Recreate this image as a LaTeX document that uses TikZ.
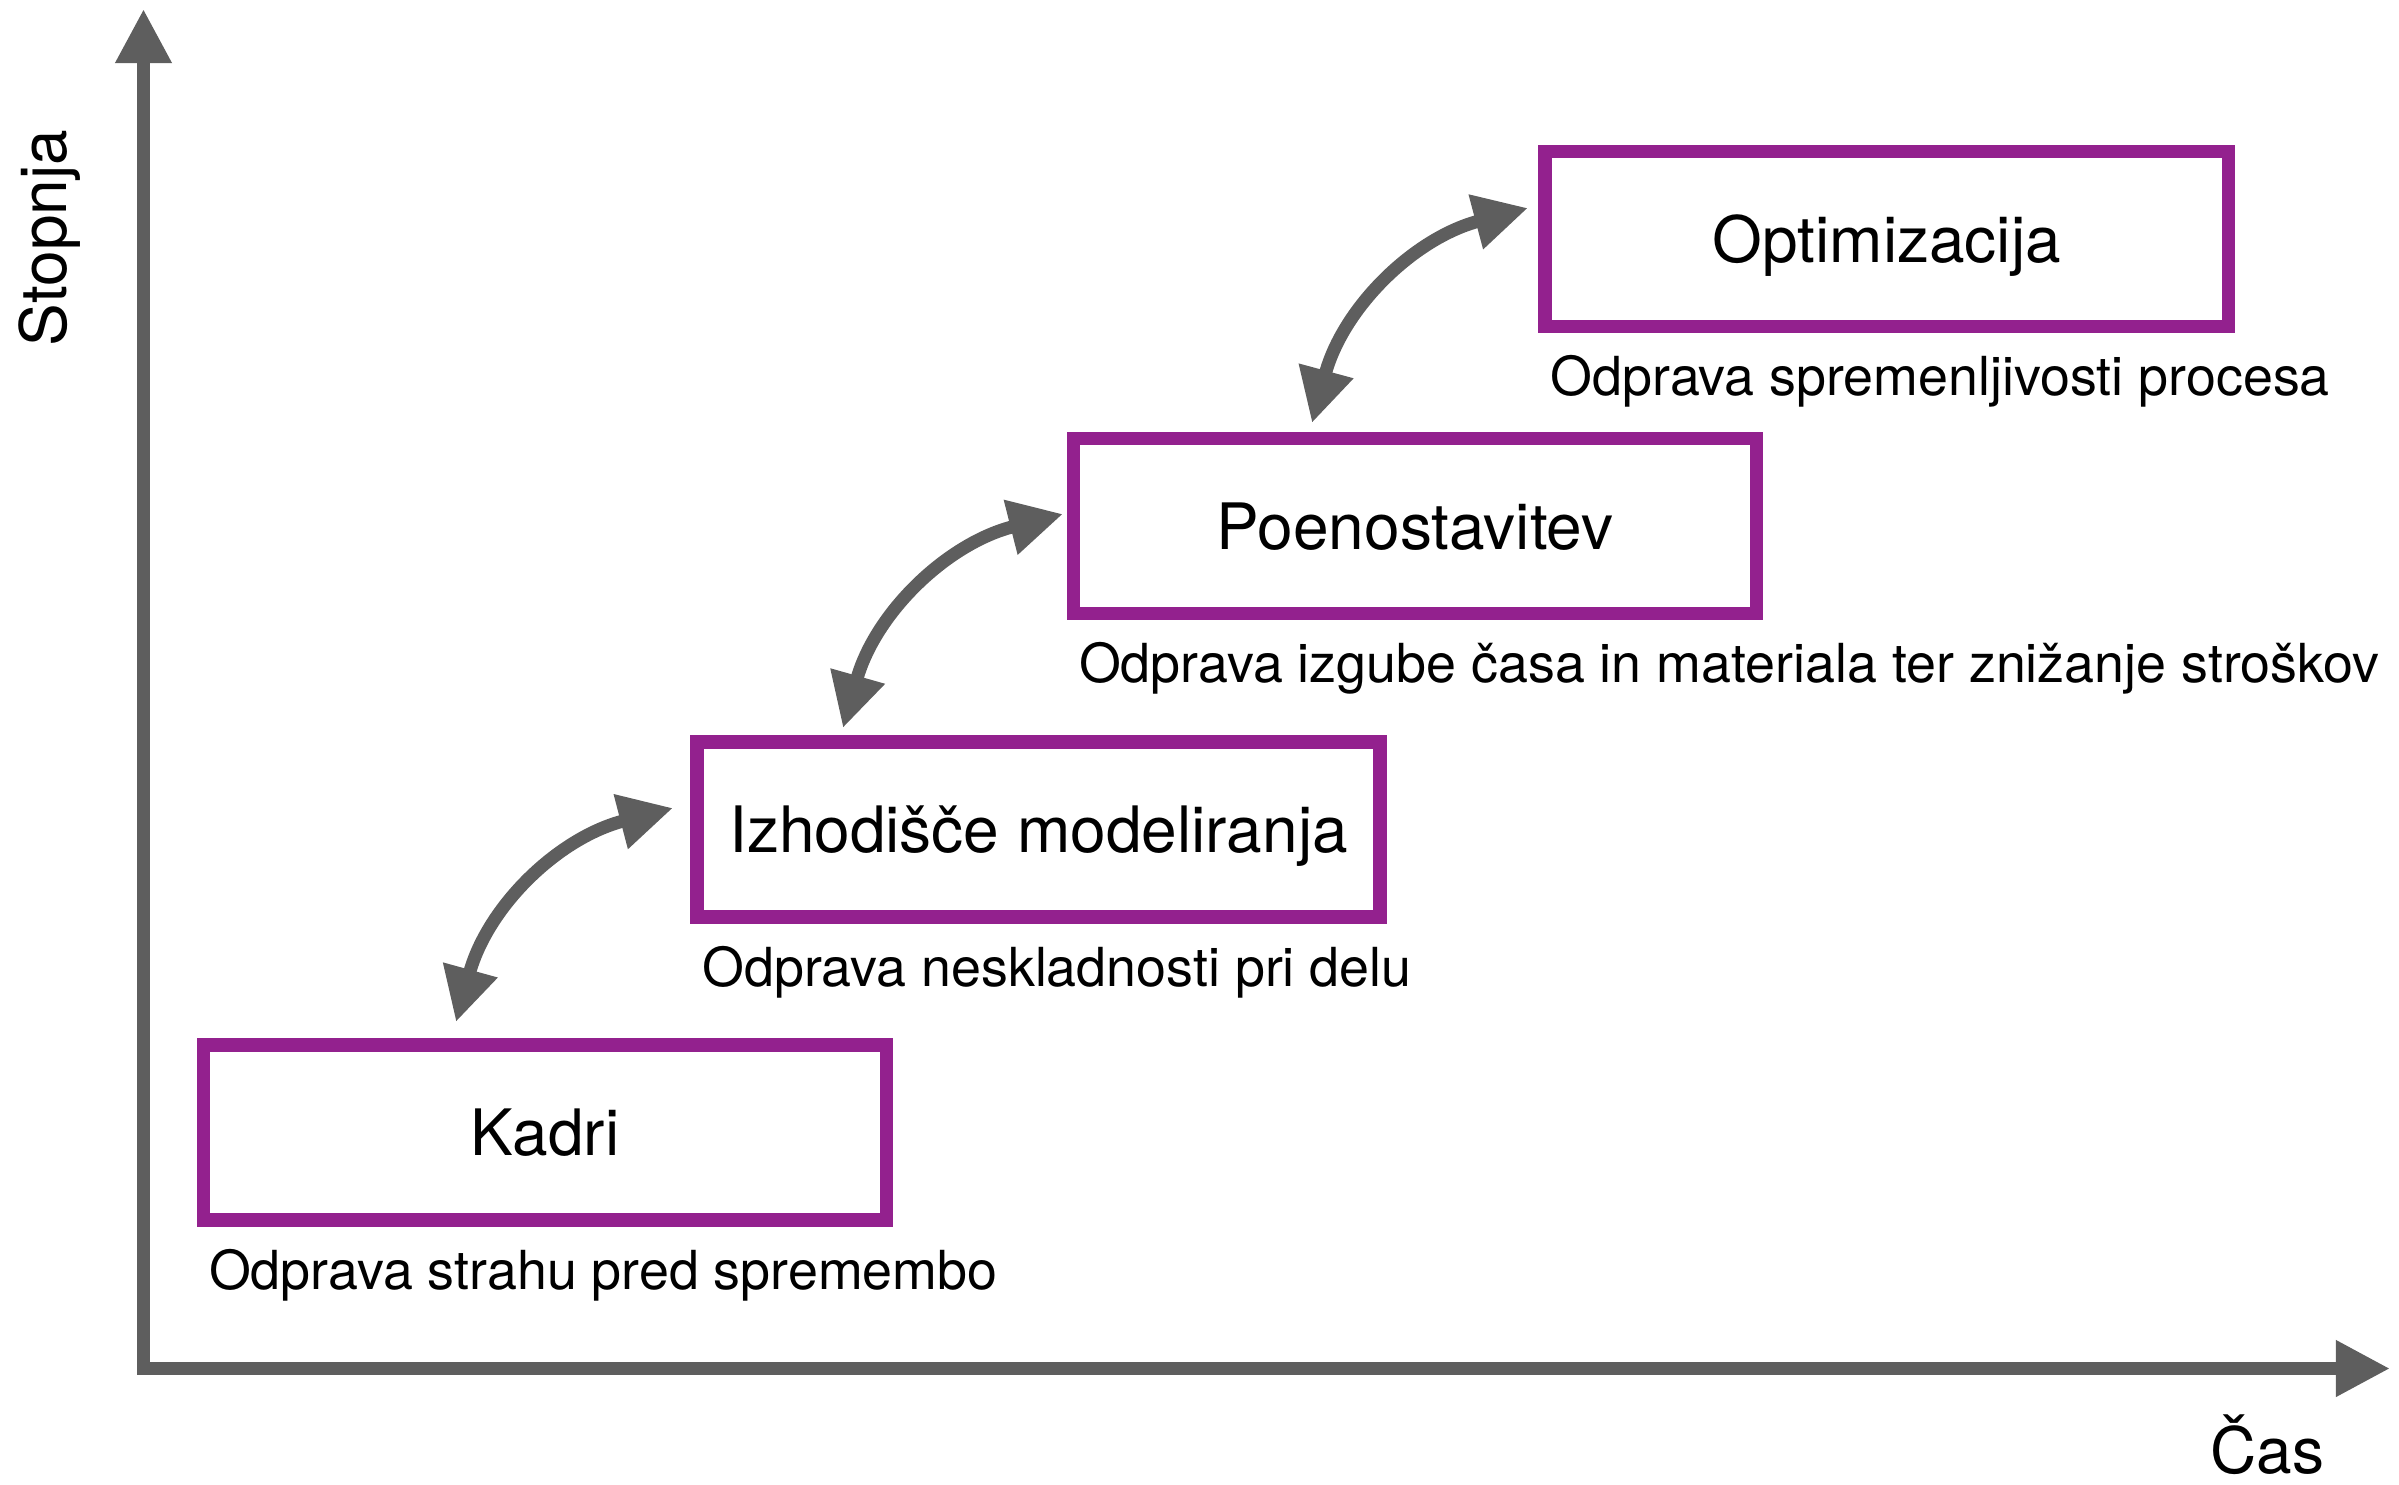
\documentclass[tikz,border=0pt]{standalone}
\usepackage{fontspec}
\setmainfont{TeX Gyre Heros}
\usetikzlibrary{arrows.meta,calc}
\definecolor{axisgray}{RGB}{94,94,94}
\definecolor{boxpurple}{RGB}{147,33,142}
\begin{document}
\begin{tikzpicture}[x=0.01cm,y=-0.01cm,
  stagebox/.style={draw=boxpurple,line width=0.135cm,minimum width=6.83cm,minimum height=1.75cm,
    inner sep=0pt,outer sep=0pt,text height=0.46cm,text depth=0cm,
    font=\fontsize{18.2pt}{22pt}\selectfont},
  caption/.style={anchor=base west,inner sep=0pt,font=\fontsize{15.3pt}{18pt}\selectfont},
  axislabel/.style={inner sep=0pt,font=\fontsize{18.2pt}{22pt}\selectfont},
  axisline/.style={draw=axisgray,line width=0.13cm,line join=miter,
    {Triangle[length=0.54cm,width=0.53cm]}-{Triangle[length=0.54cm,width=0.53cm]}},
  link/.style={draw=axisgray,line width=0.13cm,
    {Triangle[length=0.54cm,width=0.53cm]}-{Triangle[length=0.54cm,width=0.53cm]}}
]
\useasboundingbox (0,0) rectangle (2399,1484);

% axes
\coordinate (ytip) at (143.5,9);
\coordinate (origin) at (143.5,1368.5);
\coordinate (xtip) at (2390,1368.5);
\draw[axisline] (ytip) -- (origin) -- (xtip);
\node[axislabel,rotate=90,anchor=base] (ylabel) at (66,238) {Stopnja};
\node[axislabel,anchor=base west] (xlabel) at (2210,1473) {Čas};

% boxes
\node[stagebox] (kadri) at (545,1132.5) {Kadri};
\node[stagebox] (izh) at (1038.5,829.5) {Izhodišče modeliranja};
\node[stagebox] (poen) at (1415,526) {Poenostavitev};
\node[stagebox] (opt) at (1886.75,239) {Optimizacija};

% captions
\node[caption] (kadricap) at ($(kadri.south west)+(5,69)$) {Odprava strahu pred spremembo};
\node[caption] (izhcap) at ($(izh.south west)+(5,69)$) {Odprava neskladnosti pri delu};
\node[caption] (poencap) at ($(poen.south west)+(5,69)$) {Odprava izgube časa in materiala ter znižanje stroškov};
\node[caption] (optcap) at ($(opt.south west)+(5,69)$) {Odprava spremenljivosti procesa};

% curved double arrows
\coordinate (a1s) at (456,1022);
\coordinate (a1e) at (673,808);
\coordinate (a2s) at (843,728);
\coordinate (a2e) at (1063,514);
\coordinate (a3s) at (1312,423);
\coordinate (a3e) at (1528,208);
\draw[link] (a1s) to[bend left=30] (a1e);
\draw[link] (a2s) to[bend left=30] (a2e);
\draw[link] (a3s) to[bend left=30] (a3e);
\end{tikzpicture}
\end{document}
